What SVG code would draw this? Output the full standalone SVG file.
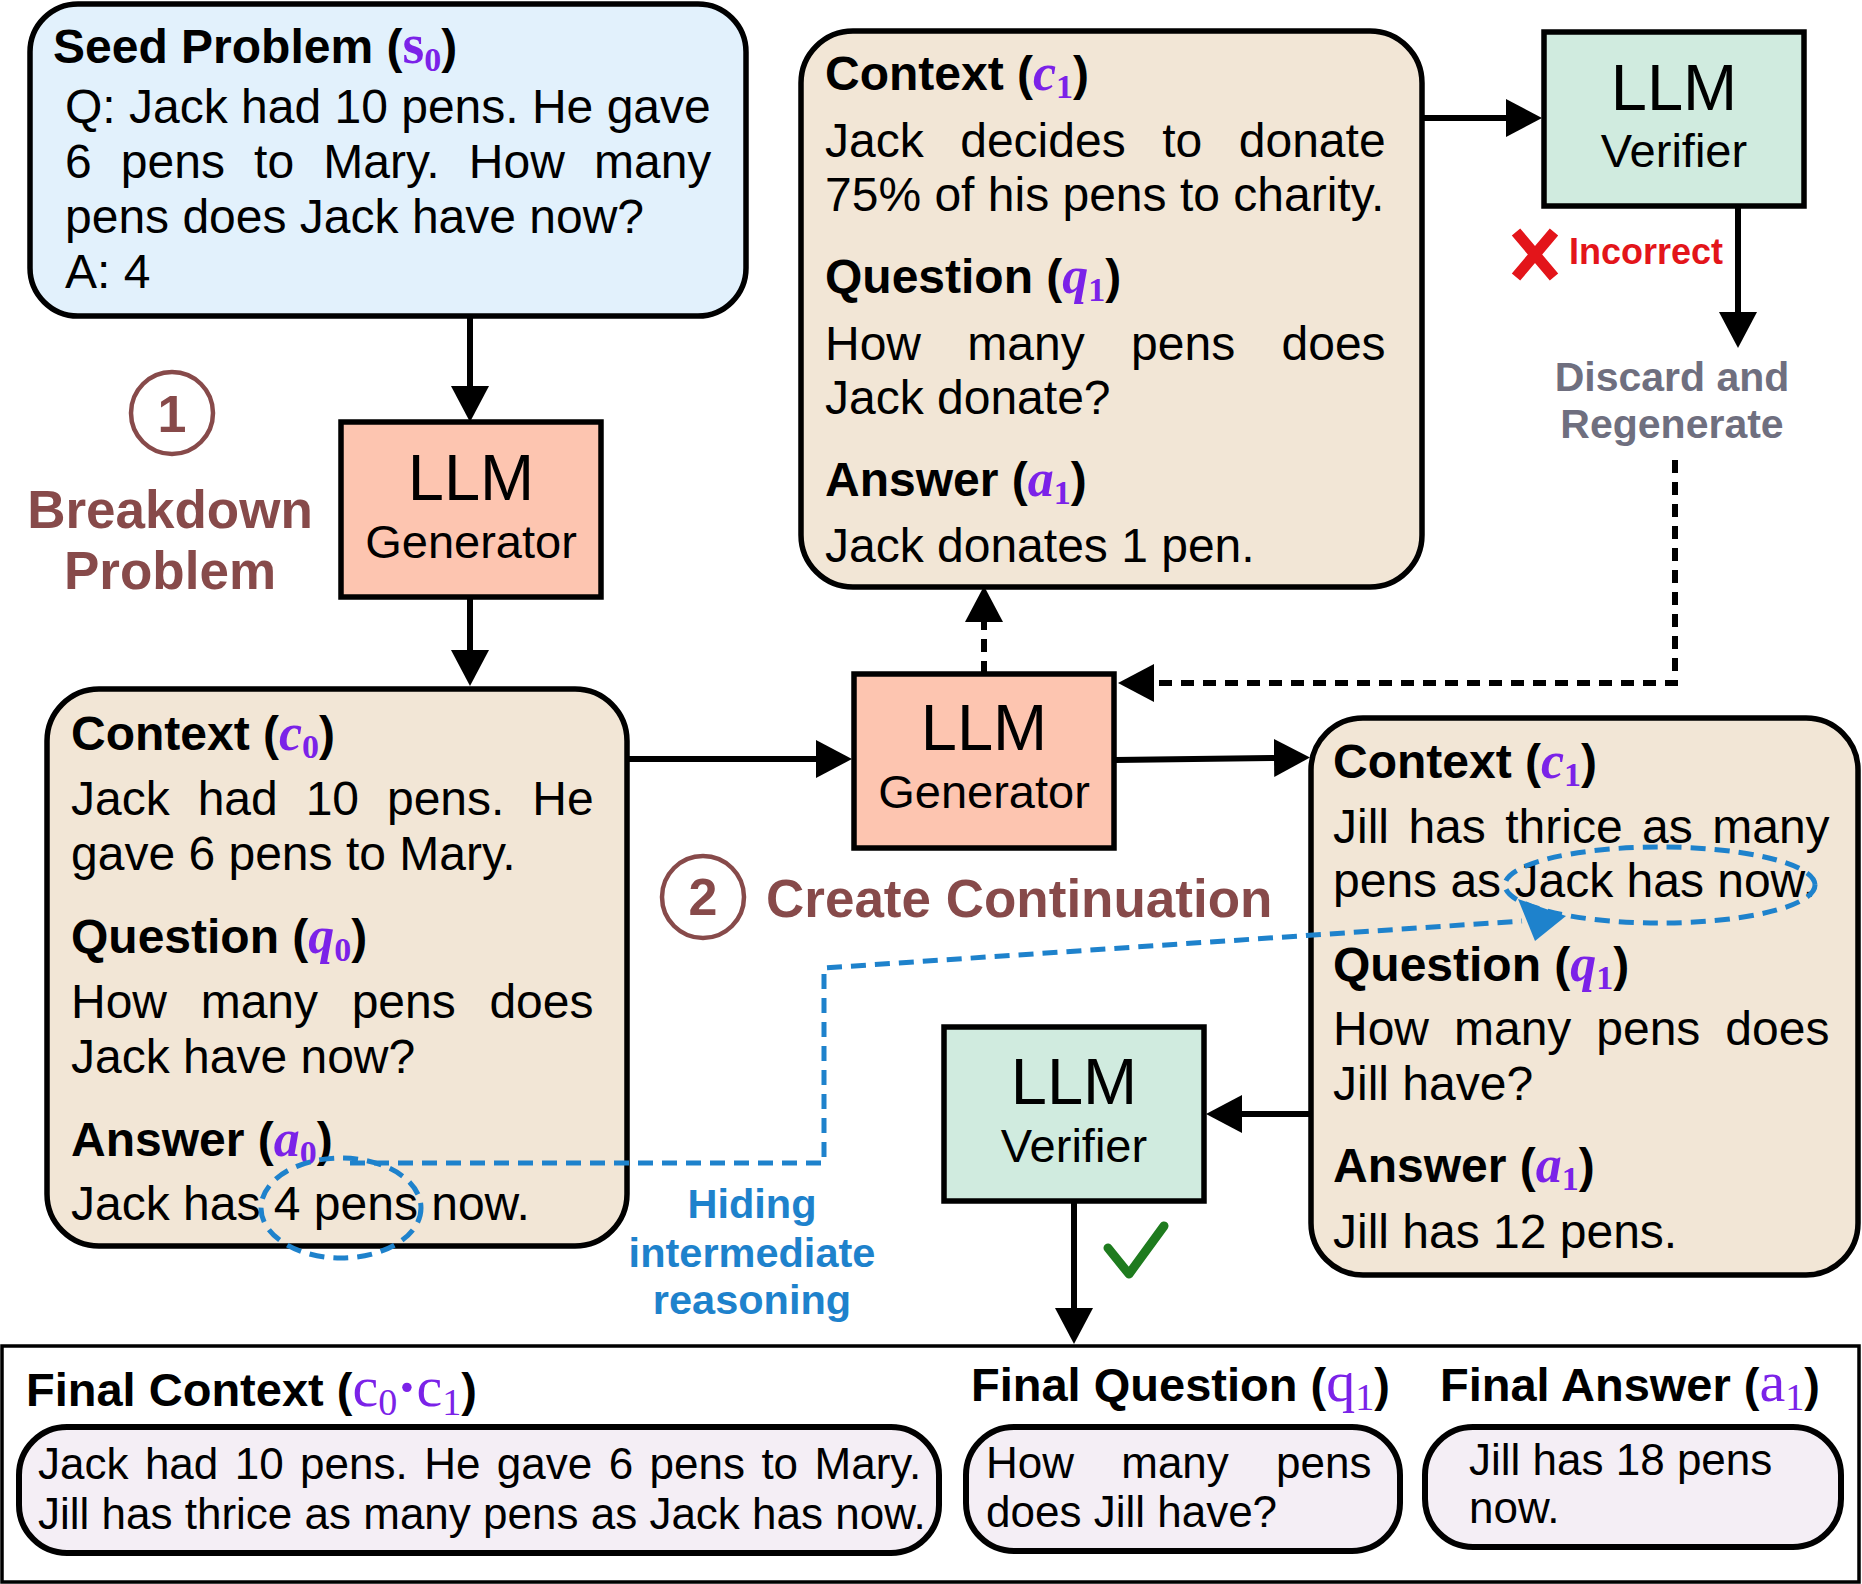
<svg xmlns="http://www.w3.org/2000/svg" width="1862" height="1584" viewBox="0 0 1862 1584">
<defs>
<style>
.t{font-family:"Liberation Sans",Arial,sans-serif;font-size:48px;fill:#000}
.b{font-weight:bold}
.v{font-family:"Liberation Serif","Times New Roman",serif;fill:#7B22E8;font-weight:bold;font-size:52px}
.vi{font-style:italic}
.s{font-family:"Liberation Serif","Times New Roman",serif;fill:#7B22E8;font-weight:bold;font-size:34px}
.fv{font-family:"Liberation Serif","Times New Roman",serif;fill:#7B22E8;font-weight:normal;font-size:58px}
.fs{font-family:"Liberation Serif","Times New Roman",serif;fill:#7B22E8;font-weight:normal;font-size:38px}
.llm{font-size:65px;text-anchor:middle}
.gen{font-size:47px;text-anchor:middle}
.box{stroke:#000;stroke-width:5.5}
.ctx{fill:#F2E6D6}
.gbox{fill:#FDC5B0}
.vbox{fill:#D0EBDF}
.pill{fill:#F4EEF5;stroke:#000;stroke-width:6}
.brown{fill:#874A4A;font-weight:bold;text-anchor:middle}
.ln{stroke:#000;stroke-width:6;fill:none}
.dash{stroke-dasharray:13 9}
.blue{stroke:#1E82CC;stroke-width:5;fill:none;stroke-dasharray:15 9}
</style>
<marker id="ah" viewBox="0 0 10 10" refX="0" refY="5" markerWidth="36" markerHeight="38" markerUnits="userSpaceOnUse" orient="auto" preserveAspectRatio="none"><path d="M0,0 L10,5 L0,10 z" fill="#000"/></marker>
</defs>
<rect width="1862" height="1584" fill="#fff"/>

<g id="seed">
<rect x="30" y="4" width="716" height="312" rx="48" fill="#E2F1FC" class="box"/>
<text x="53" y="63" class="t b">Seed Problem (<tspan class="v" style="font-size:56px">s</tspan><tspan class="s" dy="8">0</tspan><tspan dy="-8">)</tspan></text>
<text x="65" y="123" class="t">Q: Jack had 10 pens. He gave</text>
<text x="65" y="178" class="t" word-spacing="15.8">6 pens to Mary. How many</text>
<text x="65" y="233" class="t">pens does Jack have now?</text>
<text x="65" y="288" class="t">A: 4</text>
</g>

<g id="step1">
<circle cx="172" cy="413" r="41" fill="none" stroke="#874A4A" stroke-width="4.5"/>
<text x="172" y="432" class="t brown" style="font-size:52px">1</text>
<text x="170" y="528" class="t brown" style="font-size:53px">Breakdown</text>
<text x="170" y="589" class="t brown" style="font-size:53px">Problem</text>
</g>

<g id="gen1">
<rect x="341" y="422" width="260" height="175" class="box gbox"/>
<text x="471" y="500" class="t llm">LLM</text>
<text x="471" y="558" class="t gen">Generator</text>
</g>

<g id="ctx0">
<rect x="47" y="689" width="580" height="557" rx="52" class="box ctx"/>
<text x="71" y="750" class="t b">Context (<tspan class="v vi">c</tspan><tspan class="s" dy="8">0</tspan><tspan dy="-8">)</tspan></text>
<text x="71" y="815" class="t" word-spacing="14.6">Jack had 10 pens. He</text>
<text x="71" y="870" class="t">gave 6 pens to Mary.</text>
<text x="71" y="953" class="t b">Question (<tspan class="v vi">q</tspan><tspan class="s" dy="8">0</tspan><tspan dy="-8">)</tspan></text>
<text x="71" y="1018" class="t" word-spacing="20.3">How many pens does</text>
<text x="71" y="1073" class="t">Jack have now?</text>
<text x="71" y="1156" class="t b">Answer (<tspan class="v vi">a</tspan><tspan class="s" dy="8">0</tspan><tspan dy="-8">)</tspan></text>
<text x="71" y="1220" class="t">Jack has 4 pens now.</text>
</g>

<g id="ctx1top">
<rect x="801" y="31" width="621" height="556" rx="52" class="box ctx"/>
<text x="825" y="90" class="t b">Context (<tspan class="v vi">c</tspan><tspan class="s" dy="8">1</tspan><tspan dy="-8">)</tspan></text>
<text x="825" y="157" class="t" word-spacing="23.2">Jack decides to donate</text>
<text x="825" y="211" class="t">75% of his pens to charity.</text>
<text x="825" y="293" class="t b">Question (<tspan class="v vi">q</tspan><tspan class="s" dy="8">1</tspan><tspan dy="-8">)</tspan></text>
<text x="825" y="360" class="t" word-spacing="33">How many pens does</text>
<text x="825" y="414" class="t">Jack donate?</text>
<text x="825" y="496" class="t b">Answer (<tspan class="v vi">a</tspan><tspan class="s" dy="8">1</tspan><tspan dy="-8">)</tspan></text>
<text x="825" y="562" class="t">Jack donates 1 pen.</text>
</g>

<g id="verifier1">
<rect x="1544" y="32" width="260" height="174" class="box vbox"/>
<text x="1674" y="110" class="t llm">LLM</text>
<text x="1674" y="167" class="t gen">Verifier</text>
</g>

<g id="incorrect">
<path d="M1516,232 L1554,277 M1554,232 L1516,277" stroke="#E3151A" stroke-width="11" fill="none"/>
<text x="1569" y="264" class="t b" style="font-size:36px;fill:#E3151A">Incorrect</text>
</g>

<g id="discard">
<text x="1672" y="391" class="t b" text-anchor="middle" style="font-size:41px;fill:#6F6F7F">Discard and</text>
<text x="1672" y="438" class="t b" text-anchor="middle" style="font-size:41px;fill:#6F6F7F">Regenerate</text>
</g>

<g id="gen2">
<rect x="854" y="674" width="260" height="174" class="box gbox"/>
<text x="984" y="750" class="t llm">LLM</text>
<text x="984" y="808" class="t gen">Generator</text>
</g>

<g id="step2">
<circle cx="703" cy="897" r="41" fill="none" stroke="#874A4A" stroke-width="4.5"/>
<text x="703" y="915" class="t brown" style="font-size:52px">2</text>
<text x="766" y="917" class="t b" style="font-size:53px;fill:#874A4A">Create Continuation</text>
</g>

<g id="ctx1">
<rect x="1311" y="718" width="547" height="557" rx="52" class="box ctx"/>
<text x="1333" y="778" class="t b">Context (<tspan class="v vi">c</tspan><tspan class="s" dy="8">1</tspan><tspan dy="-8">)</tspan></text>
<text x="1333" y="843" class="t" word-spacing="6.1">Jill has thrice as many</text>
<text x="1333" y="897" class="t">pens as Jack has now.</text>
<text x="1333" y="981" class="t b">Question (<tspan class="v vi">q</tspan><tspan class="s" dy="8">1</tspan><tspan dy="-8">)</tspan></text>
<text x="1333" y="1045" class="t" word-spacing="11.6">How many pens does</text>
<text x="1333" y="1100" class="t">Jill have?</text>
<text x="1333" y="1182" class="t b">Answer (<tspan class="v vi">a</tspan><tspan class="s" dy="8">1</tspan><tspan dy="-8">)</tspan></text>
<text x="1333" y="1248" class="t">Jill has 12 pens.</text>
</g>

<g id="verifier2">
<rect x="944" y="1027" width="260" height="174" class="box vbox"/>
<text x="1074" y="1104" class="t llm">LLM</text>
<text x="1074" y="1162" class="t gen">Verifier</text>
</g>

<g id="check">
<path d="M1108,1248 L1129,1274 L1164,1226" stroke="#1E7B1E" stroke-width="9" fill="none" stroke-linecap="round" stroke-linejoin="round"/>
</g>

<g id="hiding">
<text x="752" y="1218" class="t b" text-anchor="middle" style="font-size:41.5px;fill:#1E82CC">Hiding</text>
<text x="752" y="1267" class="t b" text-anchor="middle" style="font-size:41.5px;fill:#1E82CC">intermediate</text>
<text x="752" y="1314" class="t b" text-anchor="middle" style="font-size:41.5px;fill:#1E82CC">reasoning</text>
</g>

<g id="final">
<rect x="2" y="1346" width="1857" height="236" fill="#fff" stroke="#000" stroke-width="3.5"/>
<text x="26" y="1406" class="t b" style="font-size:47px">Final Context (<tspan class="fv">c</tspan><tspan class="fs" dy="9">0</tspan><tspan class="fv" dy="-9" style="font-weight:bold">·</tspan><tspan class="fv">c</tspan><tspan class="fs" dy="9">1</tspan><tspan dy="-9">)</tspan></text>
<text x="971" y="1401" class="t b" style="font-size:47px">Final Question (<tspan class="fv">q</tspan><tspan class="fs" dy="9">1</tspan><tspan dy="-9">)</tspan></text>
<text x="1440" y="1401" class="t b" style="font-size:47px">Final Answer (<tspan class="fv">a</tspan><tspan class="fs" dy="9">1</tspan><tspan dy="-9">)</tspan></text>
<rect x="19" y="1427" width="920" height="126" rx="48" class="pill"/>
<text x="38" y="1479" class="t" word-spacing="4.2" style="font-size:44px">Jack had 10 pens. He gave 6 pens to Mary.</text>
<text x="38" y="1529" class="t" style="font-size:44px">Jill has thrice as many pens as Jack has now.</text>
<rect x="966" y="1427" width="434" height="124" rx="48" class="pill"/>
<text x="986" y="1478" class="t" word-spacing="35" style="font-size:44px">How many pens</text>
<text x="986" y="1527" class="t" style="font-size:44px">does Jill have?</text>
<rect x="1425" y="1427" width="416" height="120" rx="48" class="pill"/>
<text x="1469" y="1475" class="t" style="font-size:44px">Jill has 18 pens</text>
<text x="1469" y="1523" class="t" style="font-size:44px">now.</text>
</g>

<g id="connectors">
<line x1="470" y1="316" x2="470" y2="386" class="ln" marker-end="url(#ah)"/>
<line x1="470" y1="597" x2="470" y2="650" class="ln" marker-end="url(#ah)"/>
<line x1="627" y1="759" x2="816" y2="759" class="ln" marker-end="url(#ah)"/>
<line x1="1115" y1="760" x2="1274" y2="758" class="ln" marker-end="url(#ah)"/>
<line x1="984" y1="674" x2="984" y2="622" class="ln dash" marker-end="url(#ah)"/>
<line x1="1422" y1="118" x2="1506" y2="118" class="ln" marker-end="url(#ah)"/>
<line x1="1738" y1="206" x2="1738" y2="312" class="ln" marker-end="url(#ah)"/>
<path d="M1675,460 L1675,683 L1154,683" class="ln dash" marker-end="url(#ah)"/>
<line x1="1311" y1="1114" x2="1242" y2="1114" class="ln" marker-end="url(#ah)"/>
<line x1="1074" y1="1201" x2="1074" y2="1308" class="ln" marker-end="url(#ah)"/>
<ellipse cx="1660" cy="885" rx="155" ry="38" class="blue"/>
<ellipse cx="341" cy="1208" rx="80" ry="50" class="blue"/>
<path d="M350,1163 L824,1163 L824,968 L1522,921" class="blue"/>
<polygon points="1518,899 1535,941 1566,916" fill="#1E82CC"/>
</g>
</svg>
